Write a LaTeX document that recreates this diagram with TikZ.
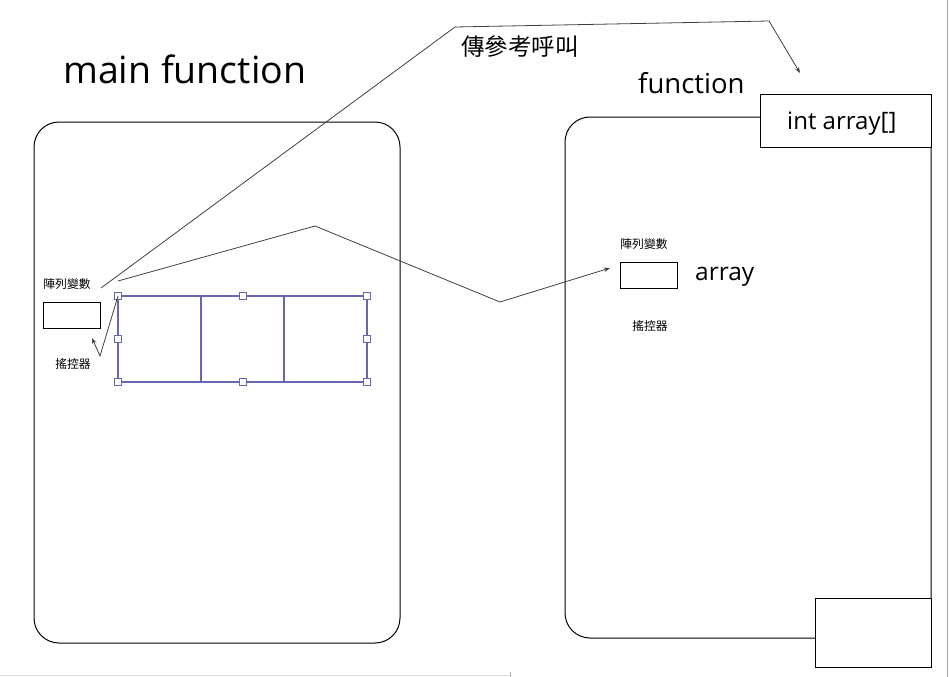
\documentclass[tikz,border=0pt]{standalone}
\usepackage{fontspec}
\setmainfont{Open Sans}
\newfontfamily\cjk{Noto Sans CJK TC}
\usetikzlibrary{arrows.meta}
\definecolor{arrblue}{HTML}{6666B3}
\definecolor{lnk}{HTML}{404040}
\tikzset{
  x=1pt, y=-1pt,
  frame/.style={draw=black, line width=1pt},
  smallbox/.style={draw=black, line width=1pt, fill=white},
  link/.style={draw=lnk, line width=0.8pt},
  tip/.style={-{Stealth[length=6pt,width=4.5pt]}},
  handle/.style={draw=arrblue, fill=white, line width=0.7pt, minimum size=6.5pt, inner sep=0pt, rectangle},
  cell/.style={draw=arrblue, line width=1.5pt},
  smalltxt/.style={font=\cjk\fontsize{11.8}{13}\selectfont, inner sep=0pt},
}
\begin{document}
\begin{tikzpicture}
\useasboundingbox (0,0) rectangle (950,677);
% page edges
\draw[gray!70, line width=1pt] (947,0) -- (947,677);
\draw[gray!25, line width=1pt] (0,675) -- (510,675);
\draw[gray!60, line width=0.6pt] (510,672) -- (510,677);

% titles
\node[font=\fontsize{37.5}{40}\selectfont, anchor=base west, inner sep=0pt] (mt) at (63,84) {main function};
\node[font=\fontsize{27.5}{30}\selectfont, anchor=base west, inner sep=0pt] (ft) at (638,93) {function};

% main frame
\draw[frame, rounded corners=25pt] (34,122) rectangle (400,643);

% function frame
\draw[frame, rounded corners=25pt] (565,117) rectangle (931,638);
\node[smallbox, minimum width=171pt, minimum height=53pt, inner sep=0pt, anchor=north west] (param) at (760,94) {};
\node[font=\fontsize{24}{26}\selectfont, anchor=base west, inner sep=0pt] (paramtxt) at (787,129) {int array[]};
\node[smallbox, minimum width=116pt, minimum height=69pt, inner sep=0pt, anchor=north west] (corner) at (815,598) {};

% left variable
\node[smalltxt] (lbl1) at (67,284) {陣列變數};
\node[smallbox, minimum width=57pt, minimum height=26pt, inner sep=0pt, anchor=north west] (var1) at (43,302) {};
\node[smalltxt] (rem1) at (73,364) {搖控器};

% array
\draw[draw=gray!60!black, line width=1.6pt] (118,296) -- (367,296);
\draw[cell] (118,296) rectangle (367,382);
\draw[cell] (201,296) -- (201,382);
\draw[cell] (284,296) -- (284,382);
\coordinate (arrNW) at (118,296);
\foreach \p/\n in {{(118,296)}/h1,{(243,296)}/h2,{(367,296)}/h3,{(118,339)}/h4,{(367,339)}/h5,{(118,382)}/h6,{(243,382)}/h7,{(367,382)}/h8}
  \node[handle] (\n) at \p {};

% right variable
\node[smalltxt] (lbl2) at (644,244) {陣列變數};
\node[smallbox, minimum width=57pt, minimum height=26pt, inner sep=0pt, anchor=north west] (var2) at (620,262) {};
\node[smalltxt] (rem2) at (650,326) {搖控器};
\node[font=\fontsize{24.5}{27}\selectfont, anchor=base west, inner sep=0pt] (arrtxt) at (695,280) {array};

% call-by-reference connector
\coordinate (c1s) at (101,288);
\coordinate (c1a) at (455,27);
\coordinate (c1b) at (769,21);
\coordinate (c1e) at (800,73);
\draw[link, tip] (c1s) -- (c1a) -- (c1b) -- (c1e);
\node[font=\cjk\fontsize{23.5}{26}\selectfont, anchor=west, inner sep=0pt] (ref) at (461,47) {傳參考呼叫};

% pointer copy connector
\coordinate (c2s) at (118,281);
\coordinate (c2a) at (315,226);
\coordinate (c2b) at (500,302);
\coordinate (c2e) at (610,268);
\draw[link, tip] (c2s) -- (c2a) -- (c2b) -- (c2e);

% pointer connector
\coordinate (c3a) at (100,356);
\coordinate (c3e) at (92,338);
\draw[link, tip] (arrNW) -- (c3a) -- (c3e);
\end{tikzpicture}
\end{document}
